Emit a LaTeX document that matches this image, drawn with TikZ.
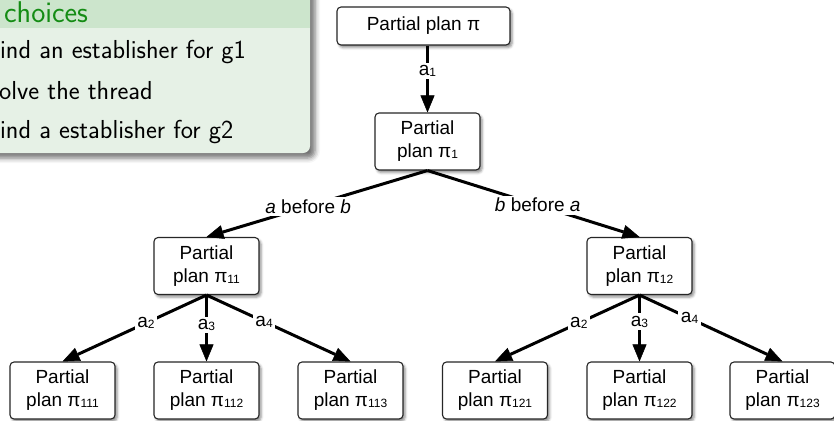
\documentclass[tikz,border=0pt]{standalone}
\usepackage{fontspec}
\setmainfont{Liberation Sans}
\usetikzlibrary{arrows.meta,shadows.blur}
\definecolor{titlebg}{RGB}{204,229,204}
\definecolor{bodybg}{RGB}{230,241,230}
\definecolor{titlefg}{RGB}{20,140,20}
\newcommand\sbs[1]{\raisebox{-1pt}{\fontsize{12}{12}\selectfont #1}}
\begin{document}
\begin{tikzpicture}[x=1pt,y=-1pt,
  planbox/.style={draw=black!85, line width=1.1pt, rounded corners=4pt, fill=white,
    minimum width=105pt, minimum height=57pt, align=center, inner sep=2pt,
    font=\fontsize{19}{23}\selectfont,
    blur shadow={shadow xshift=2pt, shadow yshift=-2.5pt, shadow blur radius=2.5pt, shadow opacity=45}},
  conn/.style={line width=3pt, -{Triangle[length=17pt,width=14pt,fill=black,line width=0.5pt]}},
  lbl/.style={fill=white, inner sep=2.5pt, font=\fontsize{19}{22}\selectfont},
  blocktext/.style={anchor=base west, inner sep=0pt, font=\sffamily\fontsize{26}{30}\selectfont}]
\useasboundingbox (0,0) rectangle (834,420);
% block
\fill[bodybg, rounded corners=7pt,
  blur shadow={shadow xshift=5pt, shadow yshift=-5pt, shadow blur radius=5pt, shadow opacity=55}]
  (-40,-20) rectangle (310,153);
\fill[titlebg] (-40,-20) rectangle (310,28);
\node[anchor=base west, inner sep=0pt, text=titlefg, font=\sffamily\fontsize{30}{30}\selectfont] (ttl) at (4,23) {choices};
\node[blocktext] (b1) at (0,59) {ind an establisher for g1};
\node[blocktext] (b2) at (-1,99) {olve the thread};
\node[blocktext] (b3) at (0,138) {ind a establisher for g2};
% plan nodes
\node[planbox, minimum width=173pt, minimum height=38pt] (top) at (423.5,26) {Partial plan π};
\node[planbox] (p1) at (427.5,141.5) {Partial\\plan π\sbs{1}};
\node[planbox] (p11) at (206.5,266) {Partial\\plan π\sbs{11}};
\node[planbox] (p12) at (639.5,266) {Partial\\plan π\sbs{12}};
\node[planbox] (p111) at (62.5,390.5) {Partial\\plan π\sbs{111}};
\node[planbox] (p112) at (206.5,390.5) {Partial\\plan π\sbs{112}};
\node[planbox] (p113) at (350.5,390.5) {Partial\\plan π\sbs{113}};
\node[planbox] (p121) at (495,390.5) {Partial\\plan π\sbs{121}};
\node[planbox] (p122) at (639.5,390.5) {Partial\\plan π\sbs{122}};
\node[planbox] (p123) at (782.5,390.5) {Partial\\plan π\sbs{123}};
% connectors
\draw[conn] (top.south -| p1.north) -- node[lbl,pos=0.38] (l1) {a\sbs{1}} (p1.north);
\draw[conn] (p1.south) -- node[lbl,pos=0.54] (lab) {\textit{a} before \textit{b}} (p11.north);
\draw[conn] (p1.south) -- node[lbl,pos=0.52] (lba) {\textit{b} before \textit{a}} (p12.north);
\draw[conn] (p11.south) -- node[lbl,pos=0.42] (l2) {a\sbs{2}} (p111.north);
\draw[conn] (p11.south) -- node[lbl,pos=0.45] (l3) {a\sbs{3}} (p112.north);
\draw[conn] (p11.south) -- node[lbl,pos=0.40] (l4) {a\sbs{4}} (p113.north);
\draw[conn] (p12.south) -- node[lbl,pos=0.42] (r2) {a\sbs{2}} (p121.north);
\draw[conn] (p12.south) -- node[lbl,pos=0.40] (r3) {a\sbs{3}} (p122.north);
\draw[conn] (p12.south) -- node[lbl,pos=0.35] (r4) {a\sbs{4}} (p123.north);
\end{tikzpicture}
\end{document}
